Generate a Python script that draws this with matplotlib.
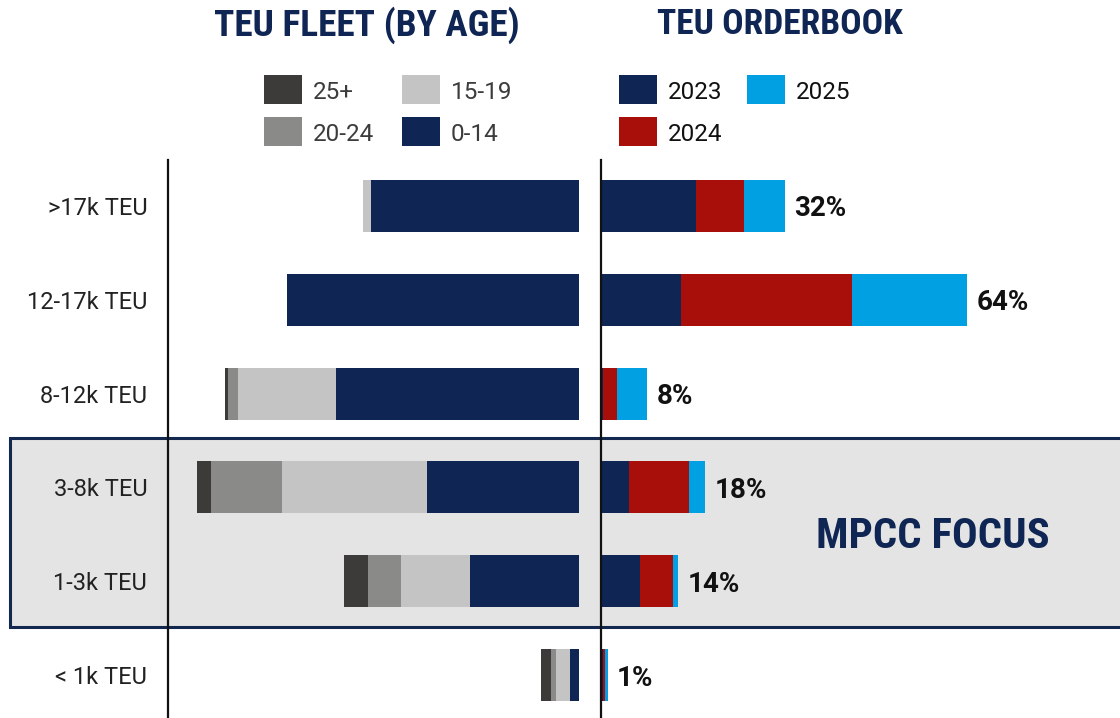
import matplotlib
matplotlib.use("Agg")
import matplotlib.pyplot as plt
from matplotlib import font_manager as fm
from matplotlib.patches import Rectangle
import numpy as np

# ---- data ----
segments = [">17k TEU", "12-17k TEU", "8-12k TEU", "3-8k TEU", "1-3k TEU", "< 1k TEU"]

# fleet capacity by age (million TEU)
age_0_14 = [5.20, 7.30, 6.08, 3.81, 2.73, 0.22]
age_15_19 = [0.20, 0.00, 2.44, 3.62, 1.71, 0.36]
age_20_24 = [0.00, 0.00, 0.25, 1.78, 0.83, 0.13]
age_25p = [0.00, 0.00, 0.07, 0.33, 0.61, 0.24]

# orderbook as % of fleet, by delivery year
ob_2023 = [16.6, 14.0, 0.4, 4.9, 6.8, 0.4]
ob_2024 = [8.4, 29.9, 2.4, 10.5, 5.8, 0.35]
ob_2025 = [7.1, 20.1, 5.3, 2.8, 0.9, 0.4]
ob_labels = ["32%", "64%", "8%", "18%", "14%", "1%"]

NAVY = "#0f2553"
C_25 = "#3c3b39"
C_20 = "#8a8a88"
C_15 = "#c4c4c4"
RED = "#a80e0a"
BLUE = "#00a0e3"

fonts = fm.fontManager.ttflist
names = {f.name for f in fonts}
BODY = "Roboto" if "Roboto" in names else "DejaVu Sans"
plt.rcParams["font.family"] = [BODY, "DejaVu Sans"]

# narrowest bold family we can find for the headings
COND, STRETCH = BODY, "normal"
for cand in ["Roboto Condensed", "Liberation Sans Narrow", "Open Sans Condensed",
             "DejaVu Sans Condensed", "Noto Sans Condensed"]:
    if cand in names:
        COND = cand
        break
else:
    if any(f.name == "DejaVu Sans" and f.stretch == "condensed" for f in fonts):
        COND, STRETCH = "DejaVu Sans", "condensed"

W, H = 1120, 718
fig = plt.figure(figsize=(W / 100, H / 100), dpi=100)


def fx(x):
    return x / W


def fy(y):
    return 1 - y / H


# highlight box behind everything
fig.add_artist(Rectangle((fx(10), fy(627)), fx(1130) - fx(10), fy(438) - fy(627),
                         transform=fig.transFigure, facecolor="#e4e4e4",
                         edgecolor="#13284f", lw=2.2, zorder=-5))

y = np.arange(len(segments))
bar_h = 0.554
ylims = (5.458, -0.49)

# ---- left: fleet by age ----
axL = fig.add_axes([fx(168), 0, fx(579) - fx(168), 558 / H])
axL.set_facecolor("none")
left = np.zeros(len(segments))
for vals, col in [(age_0_14, NAVY), (age_15_19, C_15), (age_20_24, C_20), (age_25p, C_25)]:
    axL.barh(y, vals, left=left, height=bar_h, color=col, edgecolor="none")
    left += np.array(vals)
axL.set_xlim((579 - 168) / 40, 0)
axL.set_ylim(*ylims)
axL.set_xticks([])
axL.set_yticks(y)
axL.set_yticklabels(segments, fontsize=17, color="#222222")
axL.tick_params(axis="y", length=0, pad=15)
for s in ["top", "right", "bottom"]:
    axL.spines[s].set_visible(False)
axL.spines["left"].set_linewidth(1.6)
axL.spines["left"].set_color("#111111")

# ---- right: orderbook ----
axR = fig.add_axes([fx(601), 0, 1 - fx(601), 558 / H])
axR.set_facecolor("none")
left = np.zeros(len(segments))
for vals, col in [(ob_2023, NAVY), (ob_2024, RED), (ob_2025, BLUE)]:
    axR.barh(y, vals, left=left, height=bar_h, color=col, edgecolor="none")
    left += np.array(vals)
for yi, tot, lab in zip(y, left, ob_labels):
    axR.text(tot + 1.6, yi, lab, va="center_baseline", ha="left", fontsize=20,
             fontweight="bold", color="#111111")
axR.set_xlim(0, (W - 601) / 5.72)
axR.set_ylim(*ylims)
axR.set_xticks([])
axR.set_yticks([])
for s in ["top", "right", "bottom"]:
    axR.spines[s].set_visible(False)
axR.spines["left"].set_linewidth(1.6)
axR.spines["left"].set_color("#111111")

# ---- titles (sized to the width they take in the original) ----
renderer = fig.canvas.get_renderer()


def heading(x, y0, txt, width, max_size):
    t = fig.text(fx(x), fy(y0), txt, ha="center", va="center", family=COND,
                 fontstretch=STRETCH, fontweight="bold", fontsize=max_size, color=NAVY)
    w = t.get_window_extent(renderer).width
    if w > width:
        t.set_fontsize(max_size * width / w)
    return t


heading(367, 25, "TEU FLEET (BY AGE)", 305, 30)
heading(780, 25, "TEU ORDERBOOK", 245, 30)
heading(933, 537, "MPCC FOCUS", 233, 37)

# ---- legends ----
def swatch(x, y0, col, label, tcol):
    fig.add_artist(Rectangle((fx(x), fy(y0 + 29)), fx(38), 29 / H,
                             transform=fig.transFigure, facecolor=col, edgecolor="none"))
    fig.text(fx(x + 49), fy(y0 + 15), label, ha="left", va="center_baseline",
             fontsize=17.5, color=tcol)


swatch(264, 75, C_25, "25+", "#3c3c3c")
swatch(402, 75, C_15, "15-19", "#3c3c3c")
swatch(264, 117, C_20, "20-24", "#3c3c3c")
swatch(402, 117, NAVY, "0-14", "#3c3c3c")
swatch(619, 75, NAVY, "2023", "#111111")
swatch(747, 75, BLUE, "2025", "#111111")
swatch(619, 117, RED, "2024", "#111111")

fig.savefig("out.png", dpi=100)
